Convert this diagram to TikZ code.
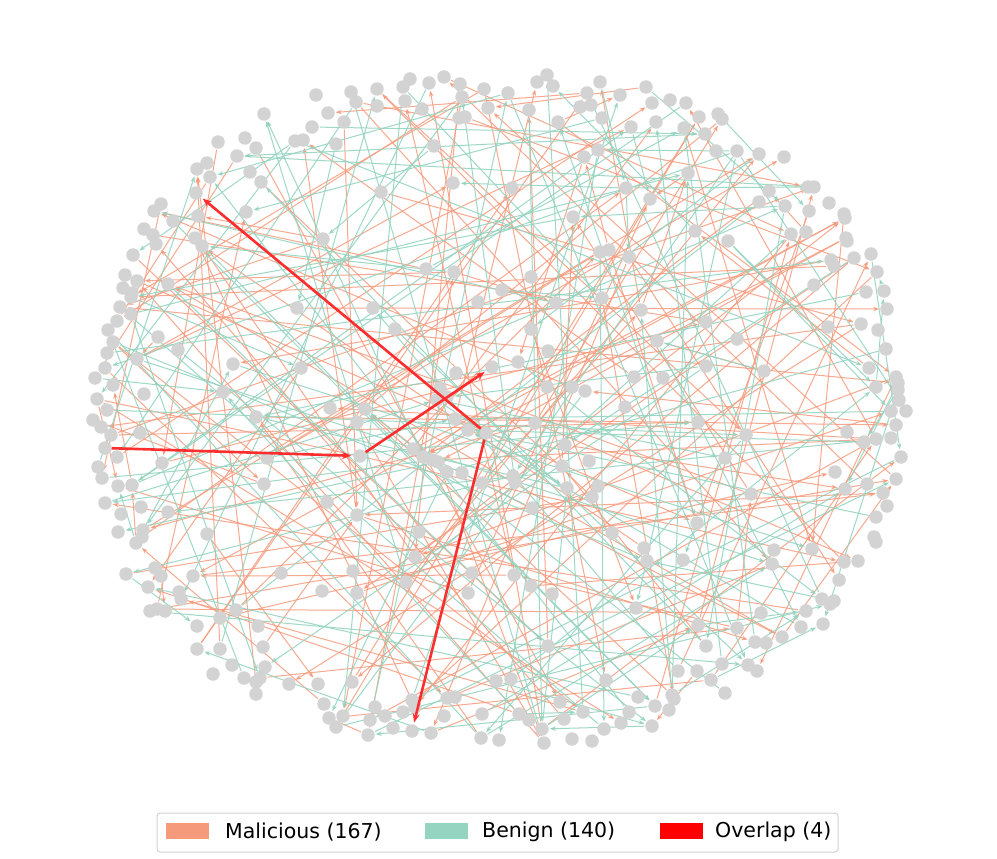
\documentclass[tikz,border=0pt]{standalone}
\usepackage{fontspec}
\setmainfont{DejaVu Sans}
\usetikzlibrary{arrows.meta}
\pgfdeclarelayer{bg}
\pgfdeclarelayer{fg}
\pgfsetlayers{bg,main,fg}
\definecolor{malc}{RGB}{246,154,124}
\definecolor{benc}{RGB}{148,212,192}
\definecolor{ovc}{RGB}{255,45,45}
\definecolor{ovpatch}{RGB}{255,0,0}
\definecolor{nodec}{RGB}{211,211,211}
\definecolor{legbord}{RGB}{210,210,210}
\tikzset{
  gnode/.style={circle,fill=nodec,minimum size=13.5pt,inner sep=0pt,outer sep=0pt},
  maledge/.style={draw=malc,draw opacity=0.85,line width=1pt,-{Stealth[length=6pt,width=4.5pt]},shorten >=1pt,shorten <=1pt},
  benedge/.style={draw=benc,draw opacity=0.9,line width=1pt,-{Stealth[length=6pt,width=4.5pt]},shorten >=1pt,shorten <=1pt},
  ovedge/.style={draw=ovc,line width=2.6pt,-{Stealth[length=9pt,width=7pt]},shorten >=2pt},
  legpatch/.style={minimum width=43pt,minimum height=16pt,inner sep=0pt},
  legtext/.style={anchor=west,inner sep=0pt,font=\fontsize{20.5}{24}\selectfont}
}
\begin{document}
\begin{tikzpicture}[x=1pt,y=-1pt]
\useasboundingbox (0,0) rectangle (997,859);
\begin{pgfonlayer}{bg}
\fill[white] (0,0) rectangle (997,859);
\end{pgfonlayer}
% graph nodes
\foreach \px/\py [count=\i] in {
316/95, 351/92, 356/102, 264/114, 328/113, 312/127, 344/122, 218/142, 245/138, 295/141, 303/140, 336/144, 256/148, 237/156, 207/163, 197/169, 210/177, 250/172, 261/182, 161/204, 154/211, 246/212, 198/216, 173/221, 144/229, 153/235, 156/244, 195/238, 202/246, 323/239, 133/255, 125/275, 137/281, 168/284, 123/288, 132/293,
377/89, 410/79, 403/87, 429/83, 444/77, 460/84, 462/97, 484/89, 508/93, 537/82, 547/75, 553/86, 600/82, 587/93, 620/95, 377/106, 405/101, 422/109, 488/108, 529/110, 580/107, 591/105, 459/118, 465/117, 558/122, 602/118, 631/127, 434/146, 584/157, 598/150, 381/192, 453/183, 512/188, 626/188, 573/217, 600/252, 609/250, 629/257, 426/269, 454/272, 531/277, 502/290,
646/87, 652/103, 670/100, 686/103, 656/122, 699/117, 718/114, 722/119, 684/128, 705/134, 716/151, 737/151, 759/154, 784/157, 688/173, 769/191, 808/187, 814/187, 650/199, 759/202, 785/206, 809/211, 829/203, 844/214, 845/218, 695/231, 728/241, 791/234, 806/232, 846/238, 847/241, 831/260, 834/266, 854/258, 871/254, 877/272, 814/285, 866/292, 884/291,
131/297, 120/307, 131/314, 117/321, 108/330, 113/342, 297/308, 158/337, 178/350, 137/359, 107/353, 105/368, 95/378, 113/385, 233/364, 301/368, 144/394, 223/392, 97/399, 107/410, 93/420, 101/427, 111/435, 256/417, 140/433, 330/408, 365/409, 357/422, 117/457, 162/463, 267/458, 98/467, 102/478, 118/486, 132/485, 264/484, 105/503, 121/514, 141/507, 168/512, 327/502, 357/515,
373/308, 478/302, 556/303, 602/298, 395/329, 531/329, 641/310, 548/351, 518/362, 456/373, 440/388, 447/397, 437/400, 547/387, 572/387, 585/391, 634/377, 625/407, 455/419, 535/423, 468/430, 565/445, 413/449, 423/457, 432/460, 438/462, 447/472, 462/473, 562/466, 589/461, 513/476, 482/483, 515/482, 567/488, 598/486, 592/497, 532/508,
706/322, 657/341, 737/339, 828/327, 861/324, 878/330, 887/309, 886/349, 706/366, 764/371, 663/378, 869/368, 876/387, 896/377, 898/383, 898/390, 899/400, 891/411, 906/411, 698/422, 746/435, 847/432, 864/442, 876/439, 891/438, 896/425, 725/458, 901/457, 835/472, 845/489, 867/484, 896/479, 883/493, 887/506, 751/494, 876/517, 697/523,
118/532, 143/530, 142/537, 136/543, 207/534, 126/574, 155/568, 161/576, 148/587, 193/576, 281/573, 179/592, 181/599, 150/611, 157/609, 165/611, 236/610, 220/618, 197/626, 258/626, 322/591, 353/571, 357/593, 197/649, 220/649, 263/647, 232/665, 265/667, 213/674, 244/678, 256/682, 260/678, 256/694, 289/684, 318/684, 352/682, 324/704, 329/718, 343/716, 336/727, 368/735,
419/532, 415/557, 406/582, 472/573, 468/593, 514/575, 531/586, 552/594, 612/533, 636/608, 548/646, 496/681, 511/679, 606/680, 447/698, 455/697, 412/700, 415/707, 375/707, 370/720, 385/716, 403/712, 393/728, 431/733, 444/716, 482/714, 519/714, 529/720, 560/702, 564/719, 583/712, 542/729, 544/743, 481/738, 499/740, 572/739, 592/741, 604/729, 621/723, 629/712, 638/697,
644/548, 647/561, 683/560, 774/550, 772/564, 812/549, 844/562, 858/561, 874/537, 876/542, 839/580, 822/599, 834/601, 830/604, 806/611, 761/613, 801/627, 823/624, 698/625, 737/628, 782/637, 755/642, 766/643, 706/646, 722/664, 748/665, 757/671, 678/671, 697/671, 711/680, 725/693, 672/695, 674/699, 655/706, 669/710, 652/726}
{\node[gnode] (n\i) at (\px,\py) {}; \xdef\NN{\i}}
% nodes touched by the overlap edges
\node[gnode] (hub) at (486,433) {};
\node[gnode] (tl) at (196,193) {};
\node[gnode] (lf) at (105,448) {};
\node[gnode] (md) at (360,456) {};
\node[gnode] (up) at (492,367) {};
\node[gnode] (bt) at (412,731) {};
% edges
\pgfmathtruncatemacro{\NNm}{\NN-1}
\begin{pgfonlayer}{bg}
\pgfmathsetseed{2024}
\foreach \k in {1,...,167} {
  \pgfmathrandominteger{\ea}{1}{\NN}
  \pgfmathrandominteger{\er}{1}{\NNm}
  \pgfmathtruncatemacro{\eb}{mod(\ea-1+\er,\NN)+1}
  \draw[maledge] (n\ea) -- (n\eb);
}
\foreach \k in {1,...,140} {
  \pgfmathrandominteger{\ea}{1}{\NN}
  \pgfmathrandominteger{\er}{1}{\NNm}
  \pgfmathtruncatemacro{\eb}{mod(\ea-1+\er,\NN)+1}
  \draw[benedge] (n\ea) -- (n\eb);
}
\end{pgfonlayer}
\begin{pgfonlayer}{fg}
\draw[ovedge] (hub) -- (tl);
\draw[ovedge] (lf) -- (md);
\draw[ovedge] (md) -- (up);
\draw[ovedge] (hub) -- (bt);
\end{pgfonlayer}
% legend
\draw[legbord,line width=1pt,rounded corners=3pt,fill=white] (157,813) rectangle (838,852);
\node[legpatch,fill=malc] (lp1) at (187.5,831) {};
\node[legtext] (lt1) at (225,832) {Malicious (167)};
\node[legpatch,fill=benc] (lp2) at (446.5,831) {};
\node[legtext] (lt2) at (482,832) {Benign (140)};
\node[legpatch,fill=ovpatch] (lp3) at (681.5,831) {};
\node[legtext] (lt3) at (715,832) {Overlap (4)};
\end{tikzpicture}
\end{document}
